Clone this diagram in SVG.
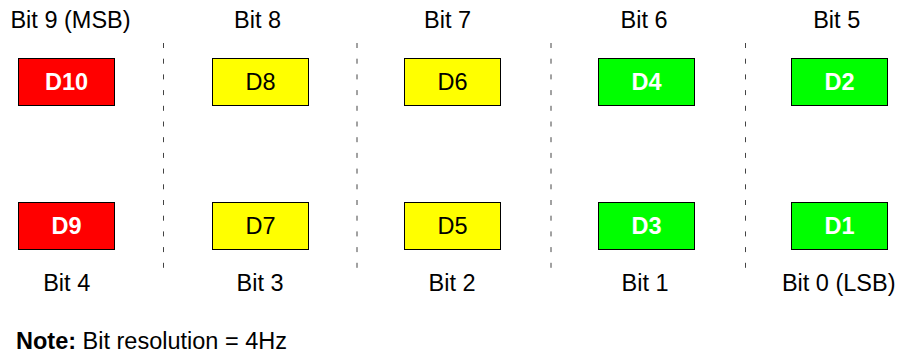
<svg xmlns="http://www.w3.org/2000/svg" width="897" height="356" viewBox="0 0 897 356">
<style>
text{font-family:"Liberation Sans",Arial,sans-serif;font-size:23.5px;fill:#000}
.lbl{text-anchor:middle}
.box rect{stroke:#000;stroke-width:1}
.red rect{fill:#FF0000}.yel rect{fill:#FFFF00}.grn rect{fill:#00FF00}
.box text{text-anchor:middle}
.red text,.grn text{fill:#fff;font-weight:bold}
.div line{stroke:#444;stroke-width:1;stroke-dasharray:5 10.7}
</style>
<rect width="897" height="356" fill="#fff"/>
<g id="dividers" class="div">
<line x1="163.5" y1="43" x2="163.5" y2="268"/>
<line x1="357" y1="43" x2="357" y2="268"/>
<line x1="551" y1="43" x2="551" y2="268"/>
<line x1="745.5" y1="43" x2="745.5" y2="268"/>
</g>
<g id="top-labels" class="lbl">
<text class="lbl" x="70.5" y="28">Bit 9 (MSB)</text>
<text class="lbl" x="257.5" y="28">Bit 8</text>
<text class="lbl" x="447.5" y="28">Bit 7</text>
<text class="lbl" x="644" y="28">Bit 6</text>
<text class="lbl" x="836.7" y="28">Bit 5</text>
</g>
<g id="D10" class="box red"><rect x="18.5" y="58.5" width="96" height="47"/><text x="66.5" y="90">D10</text></g>
<g id="D8" class="box yel"><rect x="212.5" y="58.5" width="96" height="47"/><text x="260.5" y="90">D8</text></g>
<g id="D6" class="box yel"><rect x="404.5" y="58.5" width="96" height="47"/><text x="452.5" y="90">D6</text></g>
<g id="D4" class="box grn"><rect x="598.5" y="58.5" width="96" height="47"/><text x="646.5" y="90">D4</text></g>
<g id="D2" class="box grn"><rect x="791.5" y="58.5" width="96" height="47"/><text x="839.5" y="90">D2</text></g>
<g id="D9" class="box red"><rect x="18.5" y="202.5" width="96" height="47"/><text x="66.5" y="234">D9</text></g>
<g id="D7" class="box yel"><rect x="212.5" y="202.5" width="96" height="47"/><text x="260.5" y="234">D7</text></g>
<g id="D5" class="box yel"><rect x="404.5" y="202.5" width="96" height="47"/><text x="452.5" y="234">D5</text></g>
<g id="D3" class="box grn"><rect x="598.5" y="202.5" width="96" height="47"/><text x="646.5" y="234">D3</text></g>
<g id="D1" class="box grn"><rect x="791.5" y="202.5" width="96" height="47"/><text x="839.5" y="234">D1</text></g>
<g id="bottom-labels">
<text class="lbl" x="66.7" y="291">Bit 4</text>
<text class="lbl" x="260" y="291">Bit 3</text>
<text class="lbl" x="452" y="291">Bit 2</text>
<text class="lbl" x="645" y="291">Bit 1</text>
<text class="lbl" x="838.7" y="291">Bit 0 (LSB)</text>
</g>
<g id="note"><text x="16" y="349"><tspan font-weight="bold">Note:</tspan> Bit resolution = 4Hz</text></g>
</svg>
